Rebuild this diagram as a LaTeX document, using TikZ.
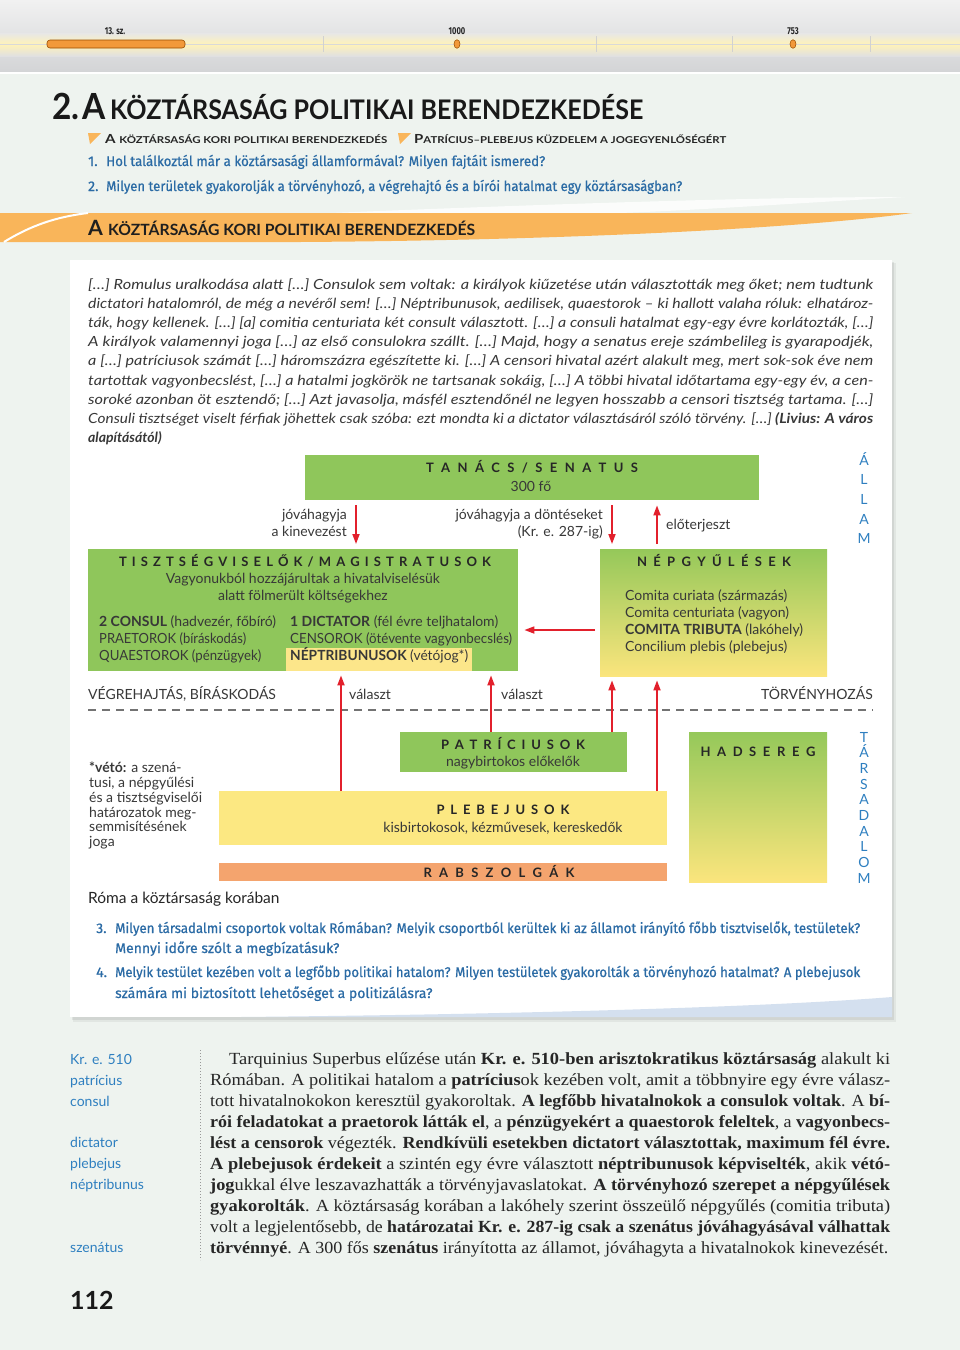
\documentclass[tikz,border=0pt]{standalone}
\usepackage{fontspec}
\usepackage{graphicx}
\usetikzlibrary{arrows.meta}
\setmainfont{Liberation Serif}
\newfontfamily\lat{Lato}
\newfontfamily\fir{Fira Sans}
\newfontfamily\firq[FakeBold=0.7]{Fira Sans}
\definecolor{pagebg}{HTML}{EEF3EF}
\definecolor{corange}{HTML}{F9B55A}
\definecolor{tlorange}{HTML}{F2993A}
\definecolor{cgreen}{HTML}{8FC65B}
\definecolor{cyellow}{HTML}{FCE882}
\definecolor{csalmon}{HTML}{F4A46E}
\definecolor{cred}{HTML}{E2202C}
\definecolor{cblue}{HTML}{2E7FC0}
\definecolor{qblue}{HTML}{2B6BA5}
\definecolor{ctext}{HTML}{383838}
\definecolor{hilite}{HTML}{FCE68A}
\definecolor{swblue}{HTML}{D4E0EF}
\definecolor{ngtop}{HTML}{95C85A}
\definecolor{ngbot}{HTML}{FBE57D}
\definecolor{tbtop}{HTML}{F1F1F1}
\definecolor{tbbot}{HTML}{D3D4D6}
\definecolor{glow}{HTML}{FFF2B8}
\definecolor{tbm1}{HTML}{E7E7E7}
\definecolor{tbm2}{HTML}{E0E0E1}
\newsavebox\fitbx
\newlength\fitln
\newcommand\fitto[2]{\sbox\fitbx{#2}\setlength\fitln{\wd\fitbx}\pgfmathsetmacro\fitr{#1/\fitln}\scalebox{\fitr}[1]{\usebox\fitbx}}
\newcommand\spr[2]{\makebox[#1pt][s]{#2}}
\newcommand\dg{\lat\fontsize{14}{16}\selectfont}
\newcommand\dgb{\lat\bfseries\fontsize{13}{15}\selectfont}
\newcommand\qf{\firq\fontsize{14}{16}\selectfont}
\newcommand\quotef{\lat\itshape\fontsize{14}{16}\selectfont}
\newcommand\bodyf{\fontsize{17}{20}\selectfont}
\newcommand\sidef{\lat\fontsize{14}{16}\selectfont}
\newcommand\tlf{\fir\bfseries\fontsize{10}{10}\selectfont}
\tikzset{
  t/.style={inner sep=0pt, anchor=base west},
  te/.style={inner sep=0pt, anchor=base east},
  tc/.style={inner sep=0pt, anchor=base},
  bx/.style={inner sep=0pt, anchor=north west, draw=none},
  arr/.style={draw=cred, line width=1.7pt, -{Triangle[width=7pt,length=10pt]}},
  vl/.style={inner sep=0pt, anchor=base, font=\sidef, text=cblue},
}
\begin{document}
\begin{tikzpicture}[x=1pt,y=-1pt]
\useasboundingbox (0,0) rectangle (960,1350);
\fill[pagebg] (0,0) rectangle (960,1350);
% top timeline bar
\shade[top color=tbtop, bottom color=tbbot] (0,0) rectangle (960,72);
\shade[top color=tbm1, bottom color=tbm2, middle color=glow] (0,33) rectangle (960,56);
\draw[white, line width=1.5pt] (0,73) -- (960,73);
\draw[black!15, line width=0.6pt] (0,44) -- (960,44);
\foreach \x in {323,596,732,870} \draw[black!18, line width=0.5pt] (\x,36) -- (\x,52);
\draw[draw=orange!60!black, fill=tlorange, rounded corners=3pt, line width=0.6pt] (47,40) rectangle (185,48);
\filldraw[fill=tlorange, draw=orange!60!black, line width=0.5pt] (457,44) ellipse [x radius=3, y radius=4.3];
\filldraw[fill=tlorange, draw=orange!60!black, line width=0.5pt] (793,44) ellipse [x radius=3, y radius=4.3];
\node[tc, font=\tlf, text=black!85] (tl1) at (115,34) {\scalebox{0.75}[1]{13. sz.}};
\node[tc, font=\tlf, text=black!85] (tl2) at (457,34) {\scalebox{0.75}[1]{1000}};
\node[tc, font=\tlf, text=black!85] (tl3) at (793,34) {\scalebox{0.75}[1]{753}};
% title
\node[t, text=black!90] (title) at (52,119) {\fitto{591}{\lat\bfseries\fontsize{36}{36}\selectfont 2.\hspace{3pt}A\hspace{5pt}\fontsize{27}{27}\selectfont KÖZTÁRSASÁG POLITIKAI BERENDEZKEDÉSE}};
\fill[corange] (88,133) -- (101,133) -- (90,144) -- cycle;
\fill[corange] (398,133) -- (411,133) -- (400,144) -- cycle;
\node[t, text=black!85] (sub1) at (105,143) {\fitto{282}{\lat\bfseries\fontsize{12.5}{12}\selectfont A \fontsize{9.5}{9}\selectfont KÖZTÁRSASÁG KORI POLITIKAI BERENDEZKEDÉS}};
\node[t, text=black!85] (sub2) at (414,143) {\fitto{312}{\lat\bfseries\fontsize{12.5}{12}\selectfont P\fontsize{9.5}{9}\selectfont ATRÍCIUS–PLEBEJUS KÜZDELEM A JOGEGYENLŐSÉGÉRT}};
\node[t, font=\qf, text=qblue] (q1n) at (88,166) {1.};
\node[t, font=\qf, text=qblue] (q1t) at (106,166) {\fitto{439}{Hol találkoztál már a köztársasági államformával? Milyen fajtáit ismered?}};
\node[t, font=\qf, text=qblue] (q2n) at (88,191) {2.};
\node[t, font=\qf, text=qblue] (q2t) at (106,191) {\fitto{576}{Milyen területek gyakorolják a törvényhozó, a végrehajtó és a bírói hatalmat egy köztársaságban?}};
% banner
\fill[white, opacity=0.8] (330,213) .. controls (550,204) and (760,197) .. (905,197) .. controls (800,203) and (700,210) .. (620,213) -- cycle;
\fill[corange] (0,213) -- (912,213) .. controls (820,226) and (600,240) .. (300,242) -- (0,242) -- cycle;
\draw[white, line width=2pt] (4,242) .. controls (30,226) and (55,217) .. (88,213);
\node[t, text=black!88] (banner) at (88,235) {\fitto{387}{\lat\bfseries\fontsize{21}{21}\selectfont A \fontsize{15.5}{15}\selectfont KÖZTÁRSASÁG KORI POLITIKAI BERENDEZKEDÉS}};
% panel
\fill[black, opacity=0.05] (73,263) rectangle (896,1022);
\fill[black, opacity=0.07] (72,262) rectangle (894,1020);
\fill[white] (70,260) rectangle (892,1017);
\fill[swblue] (240,1017) .. controls (550,1014) and (780,1006) .. (892,997) -- (892,1017) -- cycle;
% quote
\node[t, font=\quotef, text=ctext] (ql1) at (88,289.5) {\fitto{785}{[…] Romulus uralkodása alatt […] Consulok sem voltak: a királyok kiűzetése után választották meg őket; nem tudtunk}};
\node[t, font=\quotef, text=ctext] (ql2) at (88,308.6) {\fitto{785}{dictatori hatalomról, de még a nevéről sem! […] Néptribunusok, aedilisek, quaestorok – ki hallott valaha róluk: elhatároz-}};
\node[t, font=\quotef, text=ctext] (ql3) at (88,327.7) {\fitto{785}{ták, hogy kellenek. […] [a] comitia centuriata két consult választott. […] a consuli hatalmat egy-egy évre korlátozták, […]}};
\node[t, font=\quotef, text=ctext] (ql4) at (88,346.8) {\fitto{785}{A királyok valamennyi joga […] az első consulokra szállt. […] Majd, hogy a senatus ereje számbelileg is gyarapodjék,}};
\node[t, font=\quotef, text=ctext] (ql5) at (88,365.9) {\fitto{785}{a […] patríciusok számát […] háromszázra egészítette ki. […] A censori hivatal azért alakult meg, mert sok-sok éve nem}};
\node[t, font=\quotef, text=ctext] (ql6) at (88,385) {\fitto{785}{tartottak vagyonbecslést, […] a hatalmi jogkörök ne tartsanak sokáig, […] A többi hivatal időtartama egy-egy év, a cen-}};
\node[t, font=\quotef, text=ctext] (ql7) at (88,404.1) {\fitto{785}{soroké azonban öt esztendő; […] Azt javasolja, másfél esztendőnél ne legyen hosszabb a censori tisztség tartama. […]}};
\node[t, font=\quotef, text=ctext] (ql8) at (88,423.2) {\fitto{785}{Consuli tisztséget viselt férfiak jöhettek csak szóba: ezt mondta ki a dictator választásáról szóló törvény. […] {\bfseries (Livius: A város}}};
\node[t, font=\quotef, text=ctext] (ql9) at (88,442.3) {\bfseries alapításától)};
% diagram boxes
\node[bx, fill=cgreen, minimum width=454pt, minimum height=45pt] (senatus) at (305,455) {};
\node[bx, fill=cgreen, minimum width=430pt, minimum height=122pt] (magi) at (88,549) {};
\node[bx, fill=hilite, minimum width=186pt, minimum height=23pt] (hl) at (286,648) {};
\node[bx, top color=ngtop, bottom color=ngbot, minimum width=227pt, minimum height=127pt] (nep) at (600,549) {};
\node[bx, fill=cgreen, minimum width=227pt, minimum height=40pt] (patr) at (400,732) {};
\node[bx, fill=cyellow, minimum width=448pt, minimum height=54pt] (pleb) at (219,791) {};
\node[bx, fill=csalmon, minimum width=448pt, minimum height=18pt] (rab) at (219,863) {};
\node[bx, top color=ngtop, bottom color=ngbot, minimum width=138pt, minimum height=150pt] (had) at (689,732) {};
% box texts
\node[tc, font=\dgb, text=black!85] (senT) at (532,472) {\spr{212}{T A N Á C S / S E N A T U S}};
\node[tc, font=\dg, text=ctext] (senS) at (531,491) {300 fő};
\node[tc, font=\dgb, text=black!85] (magT) at (305,566) {\spr{372}{T I S Z T S É G V I S E L Ő K / M A G I S T R A T U S O K}};
\node[tc, font=\dg, text=ctext] (magS1) at (303,583) {Vagyonukból hozzájárultak a hivatalviselésük};
\node[tc, font=\dg, text=ctext] (magS2) at (303,600) {alatt fölmerült költségekhez};
\node[t, font=\dg, text=ctext] (m1) at (99,626) {\fitto{177}{{\bfseries 2 CONSUL} (hadvezér, főbíró)}};
\node[t, font=\dg, text=ctext] (m2) at (99,643) {\fitto{147}{PRAETOROK (bíráskodás)}};
\node[t, font=\dg, text=ctext] (m3) at (99,660) {\fitto{162}{QUAESTOROK (pénzügyek)}};
\node[t, font=\dg, text=ctext] (m4) at (290,626) {\fitto{208}{{\bfseries 1 DICTATOR} (fél évre teljhatalom)}};
\node[t, font=\dg, text=ctext] (m5) at (290,643) {\fitto{222}{CENSOROK (ötévente vagyonbecslés)}};
\node[t, font=\dg, text=ctext] (m6) at (290,660) {\fitto{178}{{\bfseries NÉPTRIBUNUSOK} (vétójog*)}};
\node[tc, font=\dgb, text=black!85] (nepT) at (714,566) {\spr{154}{N É P G Y Ű L É S E K}};
\node[t, font=\dg, text=ctext] (n1) at (625,600) {Comita curiata (származás)};
\node[t, font=\dg, text=ctext] (n2) at (625,617) {Comita centuriata (vagyon)};
\node[t, font=\dg, text=ctext] (n3) at (625,634) {{\bfseries COMITA TRIBUTA} (lakóhely)};
\node[t, font=\dg, text=ctext] (n4) at (625,651) {Concilium plebis (plebejus)};
\node[tc, font=\dgb, text=black!85] (patT) at (513,749) {\spr{144}{P A T R Í C I U S O K}};
\node[tc, font=\dg, text=ctext] (patS) at (513,766) {nagybirtokos előkelők};
\node[tc, font=\dgb, text=black!85] (plT) at (503,814) {\spr{133}{P L E B E J U S O K}};
\node[tc, font=\dg, text=ctext] (plS) at (503,832) {kisbirtokosok, kézművesek, kereskedők};
\node[tc, font=\dgb, text=black!85] (rabT) at (499,877) {\spr{151}{R A B S Z O L G Á K}};
\node[tc, font=\dgb, text=black!85] (hadT) at (758,756) {\spr{115}{H A D S E R E G}};
% labels
\node[te, font=\dg, text=ctext] (l1a) at (347,519) {jóváhagyja};
\node[te, font=\dg, text=ctext] (l1b) at (347,536) {a kinevezést};
\node[te, font=\dg, text=ctext] (l2a) at (603,519) {jóváhagyja a döntéseket};
\node[te, font=\dg, text=ctext] (l2b) at (603,536) {(Kr. e. 287-ig)};
\node[t, font=\dg, text=ctext] (l3) at (666,529) {előterjeszt};
\node[t, font=\dg, text=ctext] (vegre) at (88,699) {VÉGREHAJTÁS, BÍRÁSKODÁS};
\node[te, font=\dg, text=ctext] (torv) at (873,699) {TÖRVÉNYHOZÁS};
\node[t, font=\dg, text=ctext] (val1) at (349,699) {választ};
\node[t, font=\dg, text=ctext] (val2) at (501,699) {választ};
\draw[black!55, line width=1.2pt, dash pattern=on 8pt off 6pt] (88,710) -- (873,710);
% vertical words
\foreach \c [count=\i] in {Á,L,L,A,M} \node[vl] (al\i) at (864,{465+19.7*(\i-1)}) {\c};
\foreach \c [count=\i] in {T,Á,R,S,A,D,A,L,O,M} \node[vl] (ta\i) at (864,{742+15.7*(\i-1)}) {\c};
% veto note
\node[t, font=\dg, text=ctext] (v1) at (89,772) {{\bfseries *vétó:} a szená-};
\node[t, font=\dg, text=ctext] (v2) at (89,787) {tusi, a népgyűlési};
\node[t, font=\dg, text=ctext] (v3) at (89,802) {és a tisztségviselői};
\node[t, font=\dg, text=ctext] (v4) at (89,817) {határozatok meg-};
\node[t, font=\dg, text=ctext] (v5) at (89,831) {semmisítésének};
\node[t, font=\dg, text=ctext] (v6) at (89,846) {joga};
\node[t, font=\lat\fontsize{15.5}{17}\selectfont, text=black!85] (cap) at (88,903) {Róma a köztársaság korában};
% arrows
\coordinate (ax1) at (356,0);
\coordinate (ax2) at (612,0);
\coordinate (ax3) at (657,0);
\coordinate (ax4) at (341,0);
\coordinate (ax5) at (491,0);
\coordinate (ay1) at (0,630);
\draw[arr, shorten <=5pt, shorten >=5pt] (senatus.south -| ax1) -- (magi.north -| ax1);
\draw[arr, shorten <=5pt, shorten >=5pt] (senatus.south -| ax2) -- (nep.north -| ax2);
\draw[arr, shorten <=5pt, shorten >=5pt] (nep.north -| ax3) -- (senatus.south -| ax3);
\draw[arr, shorten <=5pt, shorten >=6pt] (nep.west |- ay1) -- (magi.east |- ay1);
\draw[arr, shorten >=4pt] (pleb.north -| ax4) -- (magi.south -| ax4);
\draw[arr, shorten >=4pt] (patr.north -| ax5) -- (magi.south -| ax5);
\draw[arr, shorten >=4pt] (patr.north -| ax2) -- (nep.south -| ax2);
\draw[arr, shorten >=4pt] (pleb.north -| ax3) -- (nep.south -| ax3);
% questions 3-4
\node[t, font=\qf, text=qblue] (q3n) at (96,933) {3.};
\node[t, font=\qf, text=qblue] (q3t) at (115,933) {\fitto{745}{Milyen társadalmi csoportok voltak Rómában? Melyik csoportból kerültek ki az államot irányító főbb tisztviselők, testületek?}};
\node[t, font=\qf, text=qblue] (q3u) at (115,953) {Mennyi időre szólt a megbízatásuk?};
\node[t, font=\qf, text=qblue] (q4n) at (96,977) {4.};
\node[t, font=\qf, text=qblue] (q4t) at (115,977) {\fitto{745}{Melyik testület kezében volt a legfőbb politikai hatalom? Milyen testületek gyakorolták a törvényhozó hatalmat? A plebejusok}};
\node[t, font=\qf, text=qblue] (q4u) at (115,998) {számára mi biztosított lehetőséget a politizálásra?};
% side notes
\node[t, font=\sidef, text=cblue] (s1) at (70,1064) {Kr. e. 510};
\node[t, font=\sidef, text=cblue] (s2) at (70,1085) {patrícius};
\node[t, font=\sidef, text=cblue] (s3) at (70,1106) {consul};
\node[t, font=\sidef, text=cblue] (s4) at (70,1147) {dictator};
\node[t, font=\sidef, text=cblue] (s5) at (70,1168) {plebejus};
\node[t, font=\sidef, text=cblue] (s6) at (70,1189) {néptribunus};
\node[t, font=\sidef, text=cblue] (s7) at (70,1252) {szenátus};
\draw[black!40, line width=0.8pt, dash pattern=on 1pt off 2pt] (200,1050) -- (200,1260);
% body text
\node[t, font=\bodyf, text=black!85] (b1) at (229,1064) {\fitto{661}{Tarquinius Superbus elűzése után \textbf{Kr. e. 510-ben arisztokratikus köztársaság} alakult ki}};
\node[t, font=\bodyf, text=black!85] (b2) at (210,1085) {\fitto{680}{Rómában. A politikai hatalom a \textbf{patrícius}ok kezében volt, amit a többnyire egy évre válasz-}};
\node[t, font=\bodyf, text=black!85] (b3) at (210,1106) {\fitto{680}{tott hivatalnokokon keresztül gyakoroltak. \textbf{A legfőbb hivatalnokok a consulok voltak}. A \textbf{bí-}}};
\node[t, font=\bodyf, text=black!85] (b4) at (210,1127) {\fitto{680}{\textbf{rói feladatokat a praetorok látták el}, a \textbf{pénzügyekért a quaestorok feleltek}, a \textbf{vagyonbecs-}}};
\node[t, font=\bodyf, text=black!85] (b5) at (210,1148) {\fitto{680}{\textbf{lést a censorok} végezték. \textbf{Rendkívüli esetekben dictatort választottak, maximum fél évre.}}};
\node[t, font=\bodyf, text=black!85] (b6) at (210,1169) {\fitto{680}{\textbf{A plebejusok érdekeit} a szintén egy évre választott \textbf{néptribunusok képviselték}, akik \textbf{vétó-}}};
\node[t, font=\bodyf, text=black!85] (b7) at (210,1190) {\fitto{680}{\textbf{jog}ukkal élve leszavazhatták a törvényjavaslatokat. \textbf{A törvényhozó szerepet a népgyűlések}}};
\node[t, font=\bodyf, text=black!85] (b8) at (210,1211) {\fitto{680}{\textbf{gyakorolták}. A köztársaság korában a lakóhely szerint összeülő népgyűlés (comitia tributa)}};
\node[t, font=\bodyf, text=black!85] (b9) at (210,1232) {\fitto{680}{volt a legjelentősebb, de \textbf{határozatai Kr. e. 287-ig csak a szenátus jóváhagyásával válhattak}}};
\node[t, font=\bodyf, text=black!85] (b10) at (210,1253) {\fitto{678}{\textbf{törvénnyé}. A 300 fős \textbf{szenátus} irányította az államot, jóváhagyta a hivatalnokok kinevezését.}};
\node[t, font=\lat\bfseries\fontsize{25}{25}\selectfont, text=black!90] (pno) at (70,1309) {112};
\end{tikzpicture}
\end{document}
